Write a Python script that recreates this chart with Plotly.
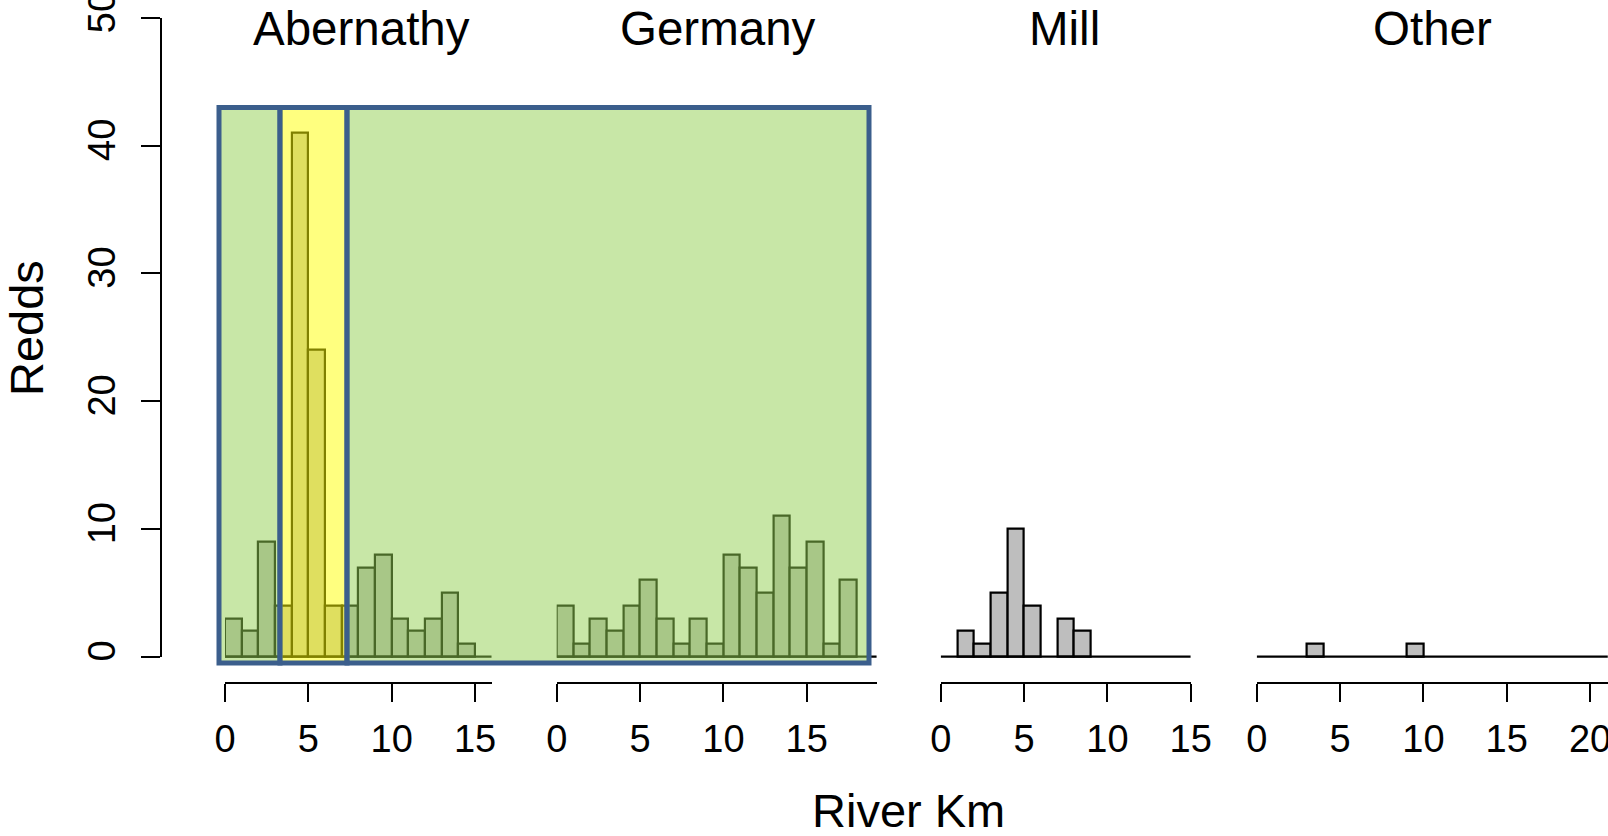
import plotly.graph_objects as go

# ---------------- data (bin counts, 1-km bins starting at 0) ----------------
aber_counts = [3, 2, 9, 4, 41, 24, 4, 4, 7, 8, 3, 2, 3, 5, 1, 0]
germ_counts = [4, 1, 3, 2, 4, 6, 3, 1, 3, 1, 8, 7, 5, 11, 7, 9, 1, 6, 0]
mill_counts = [0, 2, 1, 5, 10, 4, 0, 3, 2, 0, 0, 0, 0, 0, 0]
other_counts = [0, 0, 0, 1, 0, 0, 0, 0, 0, 1, 0, 0, 0, 0, 0, 0, 0, 0, 0, 0, 0, 0]

panel_names = ["Abernathy", "Germany", "Mill", "Other"]
panel_counts = [aber_counts, germ_counts, mill_counts, other_counts]
panel_xmax = [16, 19.2, 15, 21.06]
panel_ticks = [[0, 5, 10, 15], [0, 5, 10, 15], [0, 5, 10, 15], [0, 5, 10, 15, 20]]
y_ticks = [0, 10, 20, 30, 40, 50]

W, H = 1608, 836
FONT = "Liberation Sans, Arial, sans-serif"

def px_x(p):
    return p / W

def px_y(p):
    return 1 - p / H

# pixel layout
panel_left_px = [225.0, 556.7, 940.7, 1256.7]
unit_px = 16.67
y0_px, y50_px = 656.7, 17.7
y_unit_px = (y0_px - y50_px) / 50.0
data_bottom_px = 680.0          # data axis extends a bit below 0 so the baseline is not clipped
data_ymin = -(data_bottom_px - y0_px) / y_unit_px
xaxis_line_px = 682.7
yaxis_line_px = 161

fig = go.Figure()
layout = dict(
    width=W, height=H,
    margin=dict(l=0, r=0, t=0, b=0, pad=0, autoexpand=False),
    paper_bgcolor="white", plot_bgcolor="rgba(0,0,0,0)",
    showlegend=False,
    bargap=0,
    font=dict(family=FONT, color="black"),
)

for i, (name, counts, xmax, ticks) in enumerate(zip(panel_names, panel_counts, panel_xmax, panel_ticks)):
    ax = "x" if i == 0 else f"x{i+1}"
    key = "xaxis" if i == 0 else f"xaxis{i+1}"
    d0 = panel_left_px[i]
    d1 = min(d0 + xmax * unit_px, W)
    xs = [k + 0.5 for k, c in enumerate(counts) if c > 0]
    ys = [c for c in counts if c > 0]
    # baseline of histogram
    fig.add_trace(go.Scatter(x=[0, len(counts) if i != 1 else xmax], y=[0, 0], mode="lines",
                             line=dict(color="black", width=2.2), xaxis=ax, yaxis="y",
                             hoverinfo="skip"))
    fig.add_trace(go.Bar(x=xs, y=ys, width=1, xaxis=ax, yaxis="y",
                         marker=dict(color="#BEBEBE", line=dict(color="black", width=2.2))))
    layout[key] = dict(
        domain=[px_x(d0), px_x(d1)], range=[0, xmax], anchor="free",
        position=px_y(xaxis_line_px), automargin=False,
        showline=True, linecolor="black", linewidth=2,
        ticks="outside", ticklen=18, tickwidth=2, tickcolor="black",
        tickvals=ticks, ticktext=[str(t) for t in ticks],
        tickfont=dict(size=38, family=FONT, color="black"),
        ticklabelstandoff=5, ticklabeloverflow="allow",
        showgrid=False, zeroline=False,
    )

# invisible data y-axis (slightly extended below zero)
layout["yaxis"] = dict(
    domain=[px_y(data_bottom_px), px_y(y50_px)], range=[data_ymin, 50], anchor="free",
    position=px_x(yaxis_line_px), automargin=False, visible=False,
    showgrid=False, zeroline=False,
)
# visible y-axis 0..50
fig.add_trace(go.Scatter(x=[None], y=[None], xaxis="x", yaxis="y5", hoverinfo="skip"))
layout["yaxis5"] = dict(
    domain=[px_y(y0_px), px_y(y50_px)], range=[0, 50], anchor="free",
    position=px_x(yaxis_line_px), automargin=False,
    showline=True, linecolor="black", linewidth=2,
    ticks="outside", ticklen=19, tickwidth=2, tickcolor="black",
    tickvals=y_ticks, ticktext=[str(t) for t in y_ticks],
    tickangle=-90, tickfont=dict(size=38, family=FONT, color="black"),
    ticklabelstandoff=11, ticklabeloverflow="allow",
    showgrid=False, zeroline=False,
)

# overlay rectangles (highlight boxes)
box_top, box_bot = 107.5, 663.0
box_edges = [219.0, 280.0, 347.0, 869.0]
fills = ["rgba(146,208,80,0.5)", "rgba(255,255,0,0.5)", "rgba(146,208,80,0.5)"]
shapes = []
for k in range(3):
    shapes.append(dict(type="rect", xref="paper", yref="paper", layer="above",
                       x0=px_x(box_edges[k]), x1=px_x(box_edges[k + 1]),
                       y0=px_y(box_bot), y1=px_y(box_top),
                       fillcolor=fills[k], line=dict(color="#3B5E8C", width=5)))
layout["shapes"] = shapes

title_x = [361.7, 717.9, 1064.5, 1432.0]
annotations = []
for name, tx in zip(panel_names, title_x):
    annotations.append(dict(text=name, x=px_x(tx), y=px_y(29), xref="paper", yref="paper",
                            showarrow=False, xanchor="center", yanchor="middle",
                            font=dict(size=47.5, family=FONT, color="black")))
annotations.append(dict(text="Redds", x=px_x(26), y=px_y(328), xref="paper", yref="paper",
                        showarrow=False, xanchor="center", yanchor="middle", textangle=-90,
                        font=dict(size=47, family=FONT, color="black")))
annotations.append(dict(text="River Km", x=px_x(908), y=px_y(810), xref="paper", yref="paper",
                        showarrow=False, xanchor="center", yanchor="middle",
                        font=dict(size=47, family=FONT, color="black")))
layout["annotations"] = annotations

fig.update_layout(**layout)
fig.write_html("out.html")
